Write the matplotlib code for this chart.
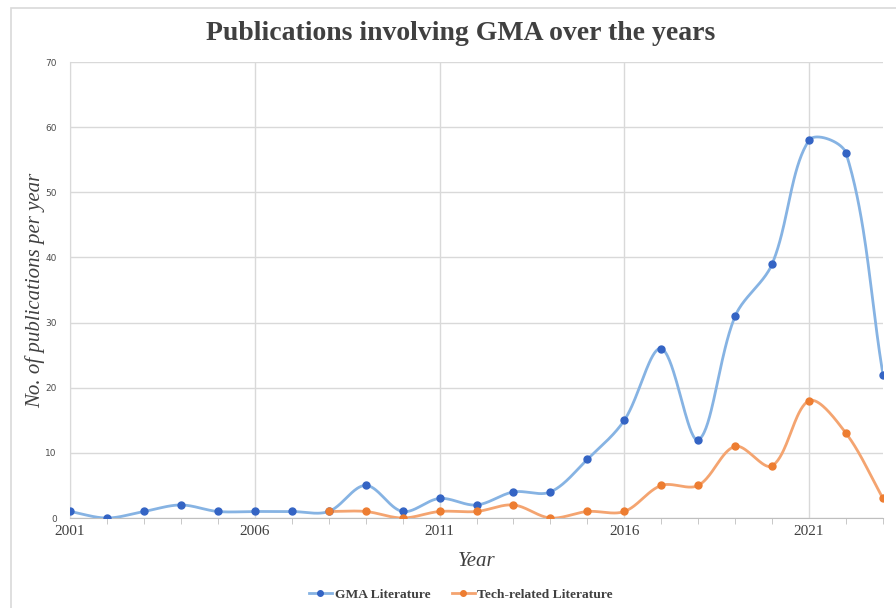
import numpy as np
import matplotlib.pyplot as plt
from matplotlib.patches import Rectangle

years = list(range(2001, 2024))
gma = [1, 0, 1, 2, 1, 1, 1, 1, 5, 1, 3, 2, 4, 4, 9, 15, 26, 12, 31, 39, 58, 56, 22]
tech_years = list(range(2008, 2024))
tech = [1, 1, 0, 1, 1, 2, 0, 1, 1, 5, 5, 11, 8, 18, 13, 3]

# pixel scale of the plot area, used so the smoothing behaves like Excel's
XPX = 813 / 22
YPX = 456 / 70


def smooth(x, y, n=40):
    # Excel-like smoothed line: bezier with chord-length scaled tangents
    p = np.column_stack([np.asarray(x, float) * XPX, np.asarray(y, float) * YPX])
    p = np.vstack([p[0], p, p[-1]])
    t = np.linspace(0, 1, n)[:, None]
    out = []
    for i in range(1, len(p) - 2):
        d0 = np.linalg.norm(p[i] - p[i - 1])
        d1 = np.linalg.norm(p[i + 1] - p[i])
        d2 = np.linalg.norm(p[i + 2] - p[i + 1])
        c1 = p[i] + (p[i + 1] - p[i - 1]) * (d1 / (d0 + d1) if d0 + d1 else 0.5) / 3
        c2 = p[i + 1] - (p[i + 2] - p[i]) * (d1 / (d1 + d2) if d1 + d2 else 0.5) / 3
        b = (1 - t) ** 3 * p[i] + 3 * (1 - t) ** 2 * t * c1 + 3 * (1 - t) * t ** 2 * c2 + t ** 3 * p[i + 1]
        out.append(b)
    out = np.vstack(out)
    return out[:, 0] / XPX, out[:, 1] / YPX


fig = plt.figure(figsize=(8.96, 6.08), dpi=100)
fig.patches.append(Rectangle((11 / 896, -0.1), 1.2, (608 - 8) / 608 + 0.1, transform=fig.transFigure,
                             fill=False, edgecolor="#d9d9d9", linewidth=1.2))
ax = fig.add_axes([70 / 896, 1 - 518 / 608, (883 - 70) / 896, (518 - 62) / 608])

blue_line, blue_dot = "#86b3e3", "#3464c4"
orange_line, orange_dot = "#f4a470", "#ed7d31"

sx, sy = smooth(years, gma)
ax.plot(sx, sy, color=blue_line, lw=2, zorder=3)
ax.plot(years, gma, "o", color=blue_dot, ms=5, zorder=4)
sx, sy = smooth(tech_years, tech)
ax.plot(sx, sy, color=orange_line, lw=2, zorder=3)
ax.plot(tech_years, tech, "o", color=orange_dot, ms=5, zorder=4)

# legend handles
ax.plot([], [], "-o", color=blue_line, mfc=blue_dot, mec=blue_dot, ms=4, lw=2, label="GMA Literature")
ax.plot([], [], "-o", color=orange_line, mfc=orange_dot, mec=orange_dot, ms=4, lw=2, label="Tech-related Literature")

ax.set_xlim(2001, 2023)
ax.set_ylim(0, 70)
ax.set_xticks([2001, 2006, 2011, 2016, 2021])
ax.set_xticks(years, minor=True)
ax.set_yticks(range(0, 71, 10))
ax.grid(True, color="#d9d9d9", lw=1)
ax.set_axisbelow(True)
ax.tick_params(axis="y", length=0, labelsize=6.5, labelcolor="#4d4d4d", pad=9.5)
ax.tick_params(axis="x", which="major", length=0, labelsize=11, labelcolor="#404040", pad=5)
ax.tick_params(axis="x", which="minor", length=4, color="#bfbfbf", direction="out")
for lbl in ax.get_xticklabels():
    lbl.set_fontfamily("Liberation Serif")
for lbl in ax.get_yticklabels():
    lbl.set_fontfamily("DejaVu Sans")
for s in ["top", "right"]:
    ax.spines[s].set_visible(False)
ax.spines["left"].set_color("#d9d9d9")
ax.spines["bottom"].set_color("#bfbfbf")

fig.text(461 / 896, 1 - 34 / 608, "Publications involving GMA over the years", ha="center", va="center",
         fontfamily="Liberation Serif", fontweight="bold", fontsize=20, color="#404040")
ax.set_ylabel("No. of publications per year", fontfamily="Liberation Serif", fontstyle="italic",
              fontsize=15, color="#404040")
ax.yaxis.set_label_coords(-0.031, 0.5)
ax.set_xlabel("Year", fontfamily="Liberation Serif", fontstyle="italic", fontsize=15,
              color="#404040", labelpad=10)

fig.legend(loc="center", bbox_to_anchor=(461 / 896, 1 - 595 / 608), ncol=2, frameon=False,
           prop={"family": "Liberation Serif", "weight": "bold", "size": 9.7},
           labelcolor="#404040", handlelength=1.7, handletextpad=0.2, columnspacing=1.6)

plt.savefig("out.png", dpi=100)
